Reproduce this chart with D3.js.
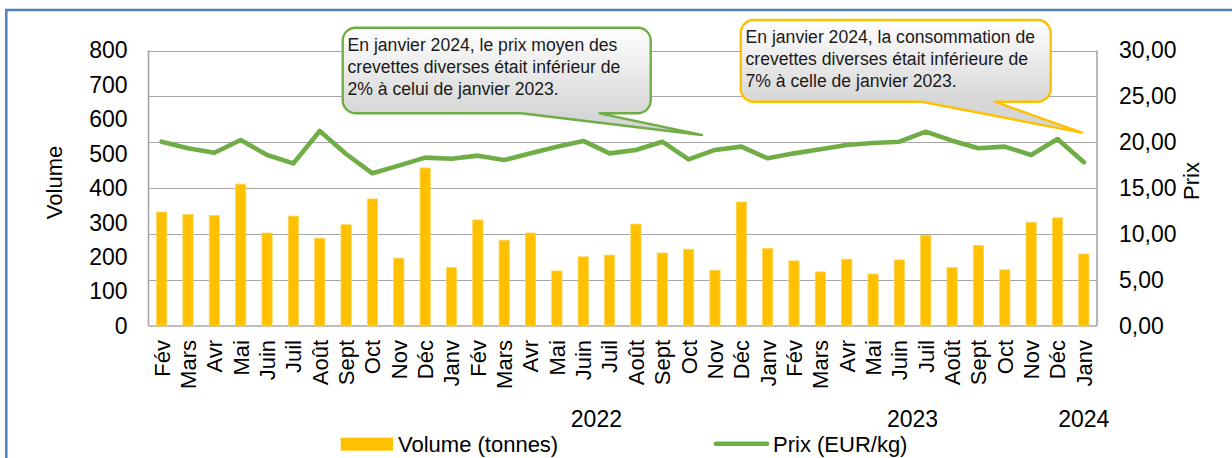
<!DOCTYPE html>
<html lang="fr">
<head>
<meta charset="utf-8">
<title>Crevettes diverses – volume et prix</title>
<script src="https://cdn.jsdelivr.net/npm/d3@7/dist/d3.min.js"></script>
<style>
  html, body { margin: 0; padding: 0; background: #ffffff; }
  svg { display: block; font-family: "Liberation Sans", Arial, sans-serif; }
</style>
</head>
<body>
<svg id="chart" width="1232" height="458"></svg>
<script>
// Monthly categories, Feb 2021 – Jan 2024
const months = ["Fév","Mars","Avr","Mai","Juin","Juil","Août","Sept","Oct","Nov","Déc",
  "Janv","Fév","Mars","Avr","Mai","Juin","Juil","Août","Sept","Oct","Nov","Déc",
  "Janv","Fév","Mars","Avr","Mai","Juin","Juil","Août","Sept","Oct","Nov","Déc",
  "Janv"];

// Volume (tonnes)
const volume = [331,324,321,412,270,319,255,294,369,197,459,
  170,308,249,270,160,201,206,296,212,223,162,360,
  225,189,157,194,151,192,263,170,234,163,301,314,
  209];

// Prix (EUR/kg)
const price = [20.07,19.35,18.87,20.25,18.62,17.71,21.23,18.73,16.63,17.46,18.33,
  18.22,18.55,18.08,18.80,19.53,20.15,18.80,19.17,20.07,18.15,19.17,19.53,
  18.26,18.80,19.24,19.71,19.93,20.07,21.16,20.18,19.35,19.53,18.62,20.36,
  17.83];

// Year groups under the month labels (first index, last index)
const yearLabels = ["2022","2023","2024"];
const yearFirst  = [11, 23, 35];
const yearLast   = [22, 34, 35];

// Axis ticks
const volumeTicks = [0,100,200,300,400,500,600,700,800];
const priceTicks  = [0,5,10,15,20,25,30];

// Series names
const seriesNames = ["Volume (tonnes)", "Prix (EUR/kg)"];

// Annotation texts
const noteGreen = ["En janvier 2024, le prix moyen des",
                   "crevettes diverses était inférieur de",
                   "2% à celui de janvier 2023."];
const noteYellow = ["En janvier 2024, la consommation de",
                    "crevettes diverses était inférieure de",
                    "7% à celle de janvier 2023."];

const COLOR_BAR = "#FFC000";
const COLOR_LINE = "#70AD47";
const COLOR_GRID = "#A6A6A6";
const FONT_COLOR = "#000000";

const svg = d3.select("#chart");
const plot = { left: 148.5, right: 1097, top: 50.5, bottom: 326 };

const frFormat = d3.formatLocale({ decimal: ",", thousands: " ", grouping: [3], currency: ["", " €"] });
const fmtPrice = frFormat.format(".2f");

const x = d3.scaleBand()
  .domain(d3.range(months.length))
  .range([plot.left, plot.right])
  .paddingInner(0.61)
  .paddingOuter(0.305);
const step = x.step();
const cx = i => x(i) + x.bandwidth() / 2;

const yVol = d3.scaleLinear().domain([0, 800]).range([plot.bottom, plot.top]);
const yPrice = d3.scaleLinear().domain([0, 30]).range([plot.bottom, plot.top]);

// Outer frame
svg.append("rect")
  .attr("x", 6.3).attr("y", 10)
  .attr("width", 1400).attr("height", 600)
  .attr("fill", "none")
  .attr("stroke", "#4F81BD")
  .attr("stroke-width", 2.5);

// Horizontal gridlines (price axis)
svg.append("g")
  .selectAll("line")
  .data(priceTicks.filter(d => d > 0))
  .join("line")
  .attr("x1", plot.left).attr("x2", plot.right)
  .attr("y1", d => Math.round(yPrice(d)) + 0.5)
  .attr("y2", d => Math.round(yPrice(d)) + 0.5)
  .attr("stroke", COLOR_GRID)
  .attr("stroke-width", 1.2);

// Axis frame lines
const axisLines = svg.append("g").attr("stroke", COLOR_GRID).attr("stroke-width", 1.6);
axisLines.append("line").attr("x1", plot.left).attr("x2", plot.left).attr("y1", plot.top).attr("y2", plot.bottom);
axisLines.append("line").attr("x1", plot.right).attr("x2", plot.right).attr("y1", plot.top).attr("y2", plot.bottom);
axisLines.append("line").attr("x1", plot.left).attr("x2", plot.right).attr("y1", plot.bottom).attr("y2", plot.bottom);

// Bars
svg.append("g")
  .selectAll("rect")
  .data(volume)
  .join("rect")
  .attr("x", (d, i) => x(i))
  .attr("width", x.bandwidth())
  .attr("y", d => yVol(d))
  .attr("height", d => yVol(0) - yVol(d))
  .attr("fill", COLOR_BAR)
  .attr("stroke", "#FFD55A")
  .attr("stroke-width", 0.8);

// Price line
svg.append("path")
  .datum(price)
  .attr("fill", "none")
  .attr("stroke", COLOR_LINE)
  .attr("stroke-width", 4.6)
  .attr("stroke-linejoin", "round")
  .attr("stroke-linecap", "round")
  .attr("d", d3.line().x((d, i) => cx(i)).y(d => yPrice(d)));

// Left axis (volume)
const leftAxis = d3.axisLeft(yVol).tickValues(volumeTicks).tickSize(0).tickPadding(0);
const gl = svg.append("g").attr("transform", `translate(${plot.left - 21},0)`).call(leftAxis);
gl.select(".domain").remove();
gl.selectAll("text")
  .attr("font-size", 23)
  .attr("font-family", "Liberation Sans, Arial, sans-serif")
  .attr("fill", FONT_COLOR);

// Right axis (price)
const rightAxis = d3.axisRight(yPrice).tickValues(priceTicks).tickFormat(fmtPrice).tickSize(0).tickPadding(0);
const gr = svg.append("g").attr("transform", `translate(${plot.right + 22},0)`).call(rightAxis);
gr.select(".domain").remove();
gr.selectAll("text")
  .attr("font-size", 23)
  .attr("font-family", "Liberation Sans, Arial, sans-serif")
  .attr("fill", FONT_COLOR);

// Month labels, rotated
svg.append("g")
  .selectAll("text")
  .data(months)
  .join("text")
  .attr("transform", (d, i) => `translate(${cx(i)},340) rotate(-90)`)
  .attr("dy", "0.36em")
  .attr("text-anchor", "end")
  .attr("font-size", 22)
  .attr("fill", FONT_COLOR)
  .text(d => d);

// Year labels, centred under their month groups
svg.append("g")
  .selectAll("text")
  .data(yearLabels)
  .join("text")
  .attr("x", (d, k) => (cx(yearFirst[k]) + cx(yearLast[k])) / 2)
  .attr("y", 427)
  .attr("text-anchor", "middle")
  .attr("font-size", 23)
  .attr("fill", FONT_COLOR)
  .text(d => d);

// Axis titles
svg.append("text")
  .attr("transform", "translate(54,182.5) rotate(-90)")
  .attr("dy", "0.35em")
  .attr("text-anchor", "middle")
  .attr("font-size", 22)
  .attr("fill", FONT_COLOR)
  .text("Volume");
svg.append("text")
  .attr("transform", "translate(1191.5,181) rotate(-90)")
  .attr("dy", "0.35em")
  .attr("text-anchor", "middle")
  .attr("font-size", 22)
  .attr("fill", FONT_COLOR)
  .text("Prix");

// Legend
const legend = svg.append("g");
legend.append("rect")
  .attr("x", 340.7).attr("y", 437.7).attr("width", 52.3).attr("height", 13)
  .attr("fill", COLOR_BAR);
legend.append("text")
  .attr("x", 398).attr("y", 451.5)
  .attr("font-size", 22).attr("fill", FONT_COLOR)
  .text(seriesNames[0]);
legend.append("line")
  .attr("x1", 716).attr("x2", 767).attr("y1", 443.8).attr("y2", 443.8)
  .attr("stroke", COLOR_LINE).attr("stroke-width", 4.6).attr("stroke-linecap", "round");
legend.append("text")
  .attr("x", 773).attr("y", 451.5)
  .attr("font-size", 22).attr("fill", FONT_COLOR)
  .text(seriesNames[1]);

// Callout bubbles
const defs = svg.append("defs");
function bubbleGradient(id, y0, y1) {
  const g = defs.append("linearGradient")
    .attr("id", id)
    .attr("gradientUnits", "userSpaceOnUse")
    .attr("x1", 0).attr("x2", 0).attr("y1", y0).attr("y2", y1);
  g.append("stop").attr("offset", 0).attr("stop-color", "#FFFFFF");
  g.append("stop").attr("offset", 1).attr("stop-color", "#D6D6D6");
  return `url(#${id})`;
}

function bubblePath(b) {
  const r = b.r;
  return [
    `M${b.x0 + r},${b.y0}`,
    `H${b.x1 - r}`,
    `A${r},${r} 0 0 1 ${b.x1},${b.y0 + r}`,
    `V${b.y1 - r}`,
    `A${r},${r} 0 0 1 ${b.x1 - r},${b.y1}`,
    `H${b.tailRight}`,
    `L${b.tipX},${b.tipY}`,
    `L${b.tailLeft},${b.y1}`,
    `H${b.x0 + r}`,
    `A${r},${r} 0 0 1 ${b.x0},${b.y1 - r}`,
    `V${b.y0 + r}`,
    `A${r},${r} 0 0 1 ${b.x0 + r},${b.y0}`,
    "Z"
  ].join(" ");
}

function drawBubble(b, lines, stroke, gradId) {
  const g = svg.append("g");
  g.append("path")
    .attr("d", bubblePath(b))
    .attr("fill", bubbleGradient(gradId, b.y0, b.y1))
    .attr("stroke", stroke)
    .attr("stroke-width", 2.4)
    .attr("stroke-linejoin", "round");
  g.selectAll("text")
    .data(lines)
    .join("text")
    .attr("x", b.textX)
    .attr("y", (d, i) => b.textY + i * 22)
    .attr("font-size", 17.6)
    .attr("fill", "#1a1a1a")
    .text(d => d);
}

// Price note: points between Oct and Nov 2022
drawBubble({
  x0: 342.7, y0: 27.7, x1: 650.7, y1: 113.3, r: 13,
  tailLeft: 521, tailRight: 599.5,
  tipX: cx(20) + step / 2, tipY: yPrice(20.8),
  textX: 347.5, textY: 51
}, noteGreen, COLOR_LINE, "gradGreen");

// Volume note: points at Jan 2024
drawBubble({
  x0: 740.7, y0: 20, x1: 1050.7, y1: 101.7, r: 13,
  tailLeft: 921.7, tailRight: 995,
  tipX: cx(35) - 2, tipY: yPrice(21.05),
  textX: 745.5, textY: 42.5
}, noteYellow, COLOR_BAR, "gradYellow");
</script>
</body>
</html>
